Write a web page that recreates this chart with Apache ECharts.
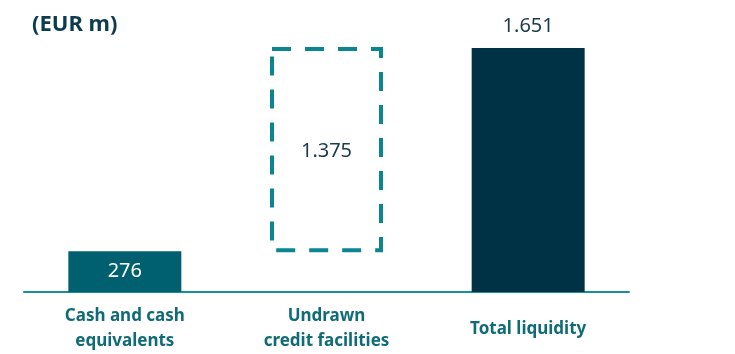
<!DOCTYPE html>
<html>
<head>
<meta charset="utf-8">
<script src="https://cdn.jsdelivr.net/npm/echarts@6/dist/echarts.min.js"></script>
<style>html,body{margin:0;padding:0;background:#fff}#c{width:735px;height:354px}</style>
</head>
<body>
<div id="c"></div>
<script>
var categories = ['Cash and cash\nequivalents', 'Undrawn\ncredit facilities', 'Total liquidity'];
var cashValues = [276, '-', '-'];
var undrawnBase = [276];
var undrawnValues = ['-', 1375, '-'];
var totalValues = ['-', '-', 1651];
var unitLabel = '(EUR m)';

function fmt(v) {
  return String(v).replace(/\B(?=(\d{3})+(?!\d))/g, '.');
}

var chart = echarts.init(document.getElementById('c'));
chart.setOption({
  animation: false,
  title: {
    text: unitLabel,
    left: 27, top: 9,
    textStyle: {fontFamily: 'Noto Sans', fontWeight: 'bold', fontSize: 22, color: '#0d3b4f'}
  },
  grid: {left: 24, right: 106, top: 26, bottom: 62},
  xAxis: {
    type: 'category',
    data: categories,
    axisLine: {lineStyle: {color: '#17909b', width: 2}},
    axisTick: {show: false},
    axisLabel: {
      interval: 0,
      margin: 37,
      verticalAlign: 'middle',
      lineHeight: 25,
      fontFamily: 'Noto Sans',
      fontWeight: 'bold',
      fontSize: 17,
      color: '#0f6b76'
    }
  },
  yAxis: {type: 'value', min: 0, max: 1800, show: false, splitLine: {show: false}},
  series: [
    {
      type: 'bar', stack: 's', barWidth: 113,
      data: cashValues,
      itemStyle: {color: '#00606f'},
      label: {show: true, position: 'inside', formatter: function (p) { return fmt(p.value); },
        color: '#ffffff', fontFamily: 'Noto Sans', fontSize: 20}
    },
    {
      type: 'bar', stack: 's', barWidth: 113,
      data: totalValues,
      itemStyle: {color: '#003246'},
      label: {show: true, position: 'top', distance: 12, formatter: function (p) { return fmt(p.value); },
        color: '#1a3a4a', fontFamily: 'Noto Sans', fontSize: 20}
    },
    {
      type: 'custom',
      data: undrawnValues.map(function (v, i) { return v === '-' ? null : [i, v]; }).filter(Boolean),
      renderItem: function (params, api) {
        var idx = api.value(0);
        var val = api.value(1);
        var base = undrawnBase[0];
        var p0 = api.coord([idx, base]);
        var p1 = api.coord([idx, base + val]);
        var w = 109;
        var x = p0[0] - w / 2;
        return {
          type: 'group',
          children: [
            {
              type: 'rect',
              shape: {x: x, y: p1[1] + 1, width: w, height: p0[1] - p1[1] - 2},
              style: {fill: 'none', stroke: '#0a8591', lineWidth: 4, lineDash: [19, 14]}
            },
            {
              type: 'text',
              style: {
                text: fmt(val), x: p0[0], y: (p0[1] + p1[1]) / 2 + 2,
                textAlign: 'center', textVerticalAlign: 'middle',
                fill: '#1a3a4a', font: '20px "Noto Sans"'
              }
            }
          ]
        };
      }
    }
  ]
});
</script>
</body>
</html>
